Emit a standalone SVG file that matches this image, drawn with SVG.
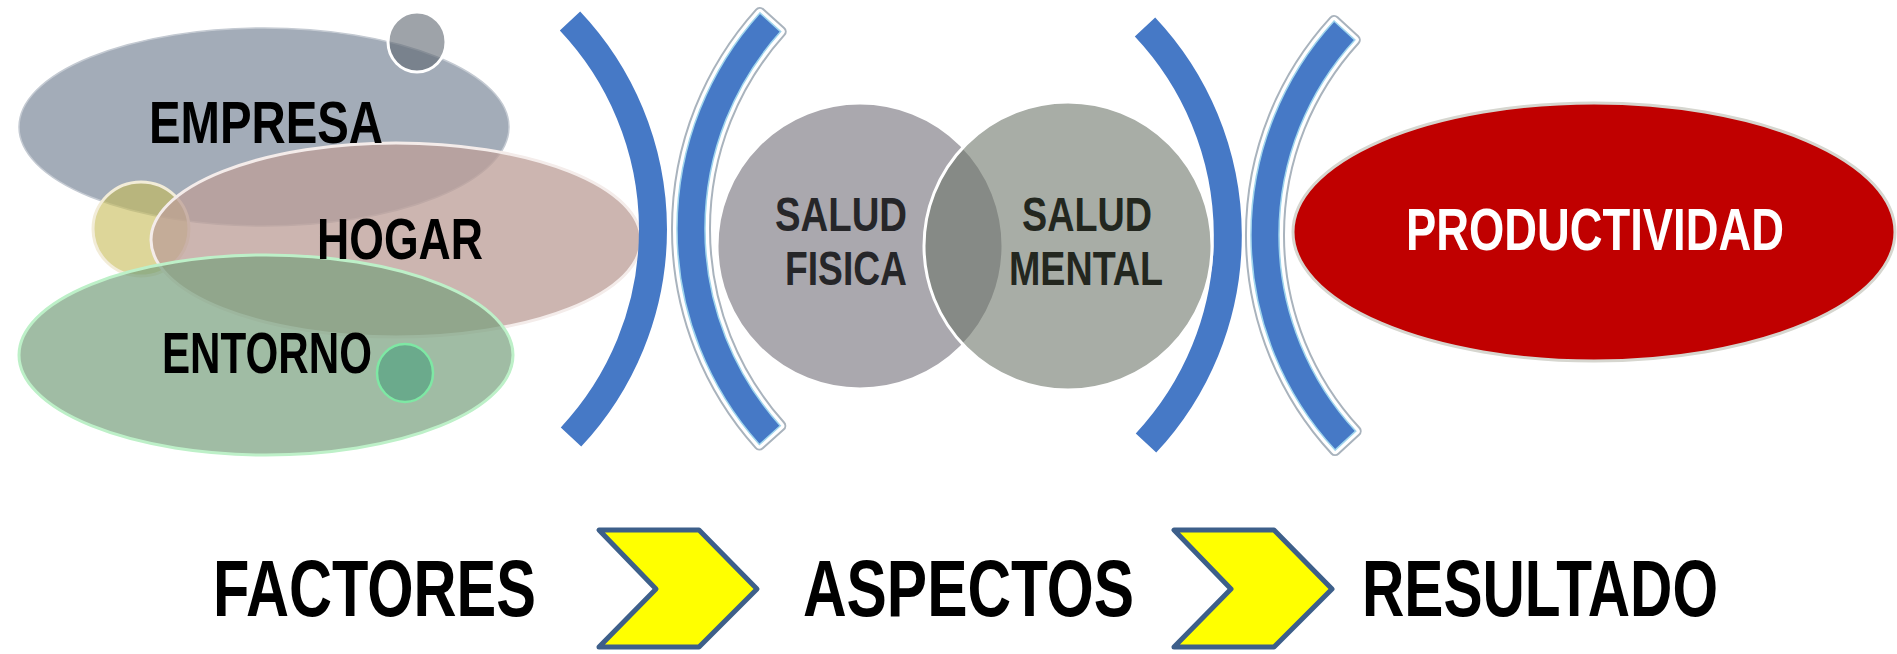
<svg xmlns="http://www.w3.org/2000/svg" xmlns:xlink="http://www.w3.org/1999/xlink" width="1897" height="654" viewBox="0 0 1897 654">
<style>
.lbl{font-family:"Liberation Sans Narrow","Liberation Sans",Arial,sans-serif;font-weight:bold;}
.blk{fill:#000000;}
.dark{fill:#262629;}
.wht{fill:#ffffff;}
.arc{fill:none;stroke:#4679c6;stroke-width:28;stroke-linecap:butt;}
.band-o{fill:none;stroke:#a9b3bd;stroke-width:12;stroke-linejoin:round;}
.band-w{fill:none;stroke:#ffffff;stroke-width:8;stroke-linejoin:round;}
.band-f{fill:#4679c6;stroke:#9fd4ec;stroke-width:1.5;}
.chev{fill:#ffff00;stroke:#3d5f8a;stroke-width:5;stroke-linejoin:round;}
</style>
<defs>
<path id="arc2" d="M 759.9 12.9 A 323 323 0 0 0 759.4 444.5 L 780.3 425.8 A 295 295 0 0 1 780.7 31.6 Z"/>
<path id="arc4" d="M 1334.1 21 A 317 317 0 0 0 1335.1 450.1 L 1355.7 431.1 A 289 289 0 0 1 1354.8 39.9 Z"/>
</defs>
<rect width="1897" height="654" fill="#ffffff"/>

<g id="node-empresa">
<ellipse cx="264" cy="127" rx="245" ry="99" fill="#a3acb8" stroke="#c4cad2" stroke-width="1.5"/>
</g>
<g id="node-circle-top">
<ellipse cx="417" cy="42" rx="29" ry="30" fill="#5e666f" fill-opacity="0.6" stroke="#ffffff" stroke-width="3"/>
</g>
<g id="node-circle-yellow">
<ellipse cx="141" cy="229" rx="48" ry="47" fill="#c6bb55" fill-opacity="0.6" stroke="#f2ecd8" stroke-width="3"/>
</g>
<g id="node-hogar">
<ellipse cx="396" cy="240" rx="245" ry="97" fill="#bc9f98" fill-opacity="0.77" stroke="#f4ecea" stroke-width="3"/>
</g>
<g id="node-entorno">
<ellipse cx="266" cy="355" rx="247" ry="100" fill="#77a07e" fill-opacity="0.7" stroke="#bdf0c8" stroke-width="3"/>
</g>
<g id="node-circle-green">
<ellipse cx="405" cy="373" rx="28" ry="29" fill="#3f9a78" fill-opacity="0.55" stroke="#7ee8a4" stroke-width="2.5"/>
</g>
<g id="labels-factores">
<text class="lbl blk" x="149" y="143" font-size="60" textLength="234" lengthAdjust="spacingAndGlyphs">EMPRESA</text>
<text class="lbl blk" x="317" y="259" font-size="57" textLength="166" lengthAdjust="spacingAndGlyphs">HOGAR</text>
<text class="lbl blk" x="162" y="373" font-size="57" textLength="210" lengthAdjust="spacingAndGlyphs">ENTORNO</text>
</g>

<g id="separators">
<path class="arc" d="M 570 21 A 303.5 303.5 0 0 1 571 437"/>
<use xlink:href="#arc2" class="band-o"/>
<use xlink:href="#arc2" class="band-w"/>
<use xlink:href="#arc2" class="band-f"/>
<path class="arc" d="M 1145 27 A 304 304 0 0 1 1146 443"/>
<use xlink:href="#arc4" class="band-o"/>
<use xlink:href="#arc4" class="band-w"/>
<use xlink:href="#arc4" class="band-f"/>
</g>

<g id="node-salud-fisica">
<circle cx="860" cy="246" r="143" fill="#aaa8ae" stroke="#ffffff" stroke-width="3"/>
<text class="lbl dark" x="775" y="231" font-size="48" textLength="132" lengthAdjust="spacingAndGlyphs">SALUD</text>
<text class="lbl dark" x="785" y="285" font-size="48" textLength="122" lengthAdjust="spacingAndGlyphs">FISICA</text>
</g>
<g id="node-salud-mental">
<circle cx="1068" cy="246" r="144" fill="#6e766a" fill-opacity="0.6" stroke="#ffffff" stroke-width="3"/>
<text class="lbl" fill="#23271f" x="1022" y="231" font-size="48" textLength="130" lengthAdjust="spacingAndGlyphs">SALUD</text>
<text class="lbl" fill="#23271f" x="1009" y="285" font-size="48" textLength="154" lengthAdjust="spacingAndGlyphs">MENTAL</text>
</g>

<g id="node-productividad">
<ellipse cx="1594" cy="232" rx="301" ry="129" fill="#c00000" stroke="#d6d6cf" stroke-width="3"/>
<text class="lbl wht" x="1406" y="250" font-size="60" textLength="378" lengthAdjust="spacingAndGlyphs">PRODUCTIVIDAD</text>
</g>

<g id="node-factores">
<text class="lbl blk" x="213" y="616" font-size="80" textLength="323" lengthAdjust="spacingAndGlyphs">FACTORES</text>
</g>
<g id="node-aspectos">
<text class="lbl blk" x="803" y="616" font-size="80" textLength="331" lengthAdjust="spacingAndGlyphs">ASPECTOS</text>
</g>
<g id="node-resultado">
<text class="lbl blk" x="1362" y="616" font-size="80" textLength="356" lengthAdjust="spacingAndGlyphs">RESULTADO</text>
</g>

<g id="connectors">
<polygon class="chev" points="599,530 699,530 757,589 699,647 599,647 656,589"/>
<polygon class="chev" points="1174,530 1274,530 1332,589 1274,647 1174,647 1231,589"/>
</g>
</svg>
